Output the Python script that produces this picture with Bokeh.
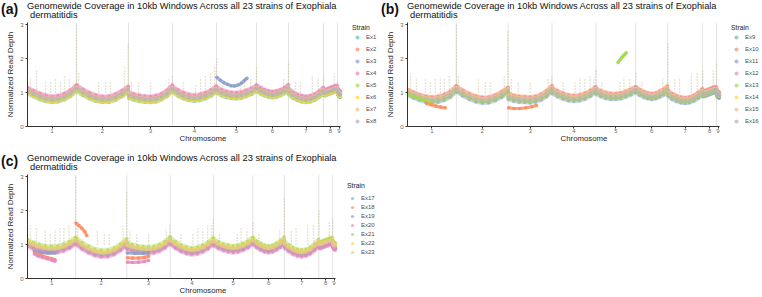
from bokeh.plotting import figure
from bokeh.models import Legend, LegendItem, FixedTicker, Span, Div
from bokeh.layouts import row, column
from bokeh.embed import file_html
from bokeh.resources import INLINE

FONT = "Liberation Sans"

# ---------------- data ----------------
CHROM_LABELS = ["1", "2", "3", "4", "5", "6", "7", "8", "9"]
CHROM_LEN_MB = [4.13, 4.38, 3.71, 3.71, 3.37, 2.70, 2.95, 1.18, 0.25]
PROFILE_FRAC = [0.0, 0.125, 0.25, 0.375, 0.5, 0.625, 0.75, 0.875, 1.0]

PROFILE_A = [
    [1.06, 0.97, 0.89, 0.83, 0.80, 0.82, 0.88, 0.98, 1.14],
    [1.13, 1.01, 0.91, 0.84, 0.80, 0.81, 0.87, 0.97, 1.10],
    [0.93, 0.87, 0.83, 0.81, 0.80, 0.82, 0.88, 0.98, 1.14],
    [1.10, 0.99, 0.91, 0.86, 0.84, 0.86, 0.91, 0.99, 1.11],
    [1.08, 1.00, 0.95, 0.92, 0.91, 0.93, 0.98, 1.04, 1.13],
    [1.13, 1.05, 1.00, 0.96, 0.94, 0.96, 1.00, 1.06, 1.15],
    [1.03, 0.93, 0.86, 0.82, 0.80, 0.82, 0.87, 0.95, 1.07],
    [1.00, 1.00, 1.02, 1.04, 1.06, 1.08, 1.10, 1.12, 1.12],
    [1.05, 1.03, 1.01, 0.99, 0.98, 0.97, 0.96, 0.95, 0.95],
]
PROFILE_B = [
    [1.02, 0.94, 0.87, 0.82, 0.80, 0.82, 0.87, 0.96, 1.13],
    [1.12, 1.00, 0.90, 0.83, 0.79, 0.80, 0.86, 0.96, 1.09],
    [0.90, 0.85, 0.82, 0.81, 0.80, 0.82, 0.88, 0.98, 1.14],
    [1.08, 0.98, 0.91, 0.86, 0.84, 0.86, 0.91, 0.99, 1.11],
    [1.06, 0.98, 0.93, 0.90, 0.90, 0.92, 0.97, 1.03, 1.11],
    [1.10, 1.02, 0.96, 0.92, 0.90, 0.92, 0.97, 1.03, 1.13],
    [1.00, 0.90, 0.84, 0.80, 0.78, 0.80, 0.85, 0.93, 1.05],
    [0.98, 0.98, 1.00, 1.02, 1.04, 1.06, 1.08, 1.10, 1.10],
    [1.03, 1.01, 0.99, 0.97, 0.96, 0.95, 0.95, 0.94, 0.94],
]
PROFILE_C = [
    [1.04, 0.96, 0.90, 0.86, 0.85, 0.86, 0.91, 0.99, 1.11],
    [1.10, 0.96, 0.85, 0.77, 0.73, 0.74, 0.80, 0.92, 1.07],
    [0.95, 0.90, 0.86, 0.84, 0.83, 0.85, 0.90, 0.99, 1.13],
    [1.10, 0.98, 0.89, 0.83, 0.80, 0.82, 0.88, 0.97, 1.10],
    [1.06, 0.98, 0.92, 0.88, 0.86, 0.88, 0.93, 1.00, 1.11],
    [1.10, 1.00, 0.93, 0.88, 0.86, 0.88, 0.94, 1.01, 1.12],
    [1.00, 0.89, 0.81, 0.76, 0.74, 0.76, 0.82, 0.92, 1.06],
    [0.98, 0.98, 1.00, 1.02, 1.04, 1.06, 1.08, 1.10, 1.10],
    [1.03, 1.01, 0.99, 0.97, 0.96, 0.95, 0.95, 0.94, 0.94],
]

STRAINS_A = ["Ex1", "Ex2", "Ex3", "Ex4", "Ex5", "Ex6", "Ex7", "Ex8"]
STRAINS_B = ["Ex9", "Ex10", "Ex11", "Ex12", "Ex13", "Ex14", "Ex15", "Ex16"]
STRAINS_C = ["Ex17", "Ex18", "Ex19", "Ex20", "Ex21", "Ex22", "Ex23"]
OFFSET_A = [-0.09, 0.06, 0.00, 0.09, -0.05, -0.07, 0.02, -0.02]
OFFSET_B = [-0.04, 0.07, -0.10, 0.04, -0.06, 0.01, 0.02, -0.02]
OFFSET_C = [0.00, -0.05, -0.06, -0.10, 0.10, 0.04, 0.02]
STRAIN_COLORS = ["#66C2A5", "#FC8D62", "#8DA0CB", "#E78AC3",
                 "#A6D854", "#FFD92F", "#E5C494", "#B3B3B3"]

# strain-specific departures from the shared band (Mb, depth)
A_EX3_CHR5_X = [15.95, 16.25, 16.55, 16.85, 17.15, 17.45, 17.75, 18.05, 18.30, 18.50]
A_EX3_CHR5_Y = [1.45, 1.36, 1.29, 1.24, 1.20, 1.19, 1.22, 1.28, 1.36, 1.42]
B_EX13_CHR5_X = [17.80, 17.95, 18.10, 18.25, 18.40, 18.50]
B_EX13_CHR5_Y = [1.88, 1.95, 2.02, 2.08, 2.13, 2.17]
B_EX13_CHR1_X = [0.00, 0.40, 0.80, 1.20, 1.60, 1.90]
B_EX13_CHR1_Y = [0.95, 0.90, 0.85, 0.80, 0.76, 0.73]
B_EX10_CHR1_X = [1.60, 2.00, 2.40, 2.80, 3.20]
B_EX10_CHR1_Y = [0.68, 0.64, 0.60, 0.57, 0.55]
B_EX10_CHR3_X = [8.55, 9.00, 9.50, 10.00, 10.50, 10.90]
B_EX10_CHR3_Y = [0.55, 0.53, 0.53, 0.55, 0.58, 0.62]
C_EX18_CHR2_X = [4.15, 4.40, 4.65, 4.90, 5.08]
C_EX18_CHR2_Y = [1.63, 1.56, 1.48, 1.38, 1.26]
C_EX18_CHR1_X = [0.60, 0.90, 1.30, 1.70, 2.10, 2.36]
C_EX18_CHR1_Y = [0.76, 0.70, 0.66, 0.62, 0.58, 0.55]
C_EX20_CHR1_X = [0.60, 0.90, 1.30, 1.70, 2.10, 2.36]
C_EX20_CHR1_Y = [0.72, 0.66, 0.62, 0.58, 0.54, 0.51]
C_EX19_CHR1_X = [0.60, 1.20, 1.80, 2.36]
C_EX19_CHR1_Y = [0.80, 0.76, 0.75, 0.75]
C_EX20_CHR3_X = [8.55, 9.00, 9.50, 10.00, 10.37]
C_EX20_CHR3_Y = [0.48, 0.47, 0.48, 0.50, 0.53]
C_EX18_CHR3_X = [8.55, 9.00, 9.50, 10.00, 10.37]
C_EX18_CHR3_Y = [0.61, 0.60, 0.60, 0.62, 0.65]
C_EX19_CHR3_X = [8.55, 9.20, 9.90, 10.37]
C_EX19_CHR3_Y = [0.75, 0.74, 0.74, 0.76]

# narrow high-coverage windows (position Mb, highest depth)
SPIKE_MB = [0.25, 0.76, 1.52, 1.94, 2.36, 2.78, 3.12, 3.54, 4.13, 4.30,
            5.99, 6.58, 7.00, 8.18, 8.49, 8.77, 9.36, 10.37, 11.89, 12.20,
            13.15, 14.17, 14.59, 15.00, 15.43, 15.77, 15.93, 16.44, 17.96, 18.30,
            18.80, 19.30, 19.81, 21.59, 22.00, 22.60, 23.00, 24.00, 24.50, 24.95,
            25.85, 26.13]
SPIKE_TOP_A = [1.45, 1.65, 1.35, 1.30, 1.40, 1.35, 1.50, 1.45, 3.00, 1.60,
               1.35, 1.30, 1.30, 1.75, 2.50, 1.35, 1.30, 1.30, 1.45, 1.50,
               1.30, 1.25, 1.45, 1.50, 1.60, 1.75, 2.00, 1.30, 1.30, 1.45,
               1.40, 1.80, 1.25, 1.40, 1.90, 1.35, 1.30, 1.50, 1.45, 1.55,
               1.55, 1.30]
SPIKE_TOP_B = [1.55, 1.45, 1.40, 1.35, 1.40, 1.45, 1.40, 1.50, 3.00, 1.50,
               1.40, 1.35, 1.30, 1.50, 2.80, 1.40, 1.35, 1.35, 1.40, 1.50,
               1.35, 1.30, 1.45, 1.40, 1.50, 1.45, 1.65, 1.30, 1.35, 1.45,
               1.40, 1.60, 1.30, 1.45, 2.50, 1.40, 1.45, 1.55, 1.60, 1.70,
               1.65, 1.90]
SPIKE_TOP_C = [1.55, 1.50, 1.40, 1.35, 1.45, 1.50, 1.50, 1.55, 3.00, 1.60,
               1.40, 1.35, 1.35, 1.55, 2.60, 1.40, 1.35, 1.35, 1.45, 1.60,
               1.35, 1.30, 1.50, 1.45, 1.55, 1.60, 1.80, 1.30, 1.35, 1.50,
               1.45, 1.65, 1.30, 1.45, 2.40, 1.45, 1.50, 1.55, 1.60, 2.00,
               1.65, 1.80]
SPIKE_BASE = 1.0

TITLE_LINE1 = "Genomewide Coverage in 10kb Windows Across all 23 strains of Exophiala"
TITLE_LINE2 = "dermatitidis"

# ---------------- helpers ----------------
starts = []
acc = 0.0
for L in CHROM_LEN_MB:
    starts.append(acc)
    acc += L
TOTAL = acc
MIDS = [s + L / 2 for s, L in zip(starts, CHROM_LEN_MB)]
BOUNDS = starts[1:]
NAN = float("nan")


def strain_xy(profile, offset):
    xs, ys = [], []
    for s, L, vals in zip(starts, CHROM_LEN_MB, profile):
        for f, v in zip(PROFILE_FRAC, vals):
            xs.append(s + f * L)
            ys.append(v + offset)
        xs.append(NAN)
        ys.append(NAN)
    return xs, ys


def header(tag, width, height, dy):
    html = (
        f'<div style="position:relative;width:{width}px;height:{height}px;'
        f"font-family:'Liberation Sans',Arial,sans-serif;color:#111111;\">"
        f'<span style="position:absolute;left:1px;top:{2 + dy}px;font-size:14px;'
        f'line-height:14px;font-weight:bold;white-space:nowrap;">{tag}</span>'
        f'<span style="position:absolute;left:27px;top:{1.6 + dy}px;font-size:9.3px;'
        f'line-height:9.3px;white-space:nowrap;">{TITLE_LINE1}</span>'
        f'<span style="position:absolute;left:30px;top:{11.3 + dy}px;font-size:9.3px;'
        f'line-height:9.3px;white-space:nowrap;">{TITLE_LINE2}</span></div>'
    )
    return Div(text=html, width=width, height=height, margin=(0, 0, 0, 0))


def panel(strains, offsets, profile, devs, spike_top, width, height, data_px,
          leg_loc, leg_glyph_h, leg_spacing, leg_title_standoff):
    frame_px = width - 27 - 2
    x_end = TOTAL * frame_px / data_px   # room on the right for the legend
    p = figure(width=width, height=height, x_range=(0, x_end), y_range=(0, 3.06),
               output_backend="svg", toolbar_location=None, title=None,
               min_border_left=27, min_border_right=2,
               min_border_top=1, min_border_bottom=19)
    p.outline_line_color = None
    p.background_fill_color = "white"
    p.border_fill_color = "white"
    p.xgrid.visible = False
    p.ygrid.visible = False
    for b in BOUNDS:
        sp = Span(location=b, dimension="height", line_color="#e3e3e3", line_width=1)
        sp.level = "underlay"
        p.add_layout(sp)

    p.segment(x0=SPIKE_MB, y0=[SPIKE_BASE] * len(SPIKE_MB), x1=SPIKE_MB, y1=spike_top,
              line_color="#c6b690", line_width=1.3, line_alpha=0.8, line_dash="1 2")

    items = []
    for i, (name, off) in enumerate(zip(strains, offsets)):
        col = STRAIN_COLORS[i]
        xs, ys = strain_xy(profile, off)
        p.line(xs, ys, line_color=col, line_width=4.0, line_alpha=0.45)
        r = p.scatter(xs, ys, size=3.4, fill_color=col, line_color=None, fill_alpha=0.7)
        items.append(LegendItem(label=name, renderers=[r]))

    for si, dx, dy in devs:
        col = STRAIN_COLORS[si]
        p.line(dx, dy, line_color=col, line_width=3.2, line_alpha=0.8)
        p.scatter(dx, dy, size=3.6, fill_color=col, line_color=None, fill_alpha=0.9)

    for ax in (p.xaxis[0], p.yaxis[0]):
        ax.axis_line_color = "#333333"
        ax.major_tick_line_color = "#333333"
        ax.minor_tick_line_color = None
        ax.major_tick_out = 2
        ax.major_tick_in = 0
        ax.major_label_text_font = FONT
        ax.major_label_text_font_size = "6px"
        ax.major_label_text_color = "#6b6b6b"
        ax.axis_label_text_font = FONT
        ax.axis_label_text_font_style = "normal"
        ax.axis_label_text_color = "#262626"
    p.xaxis.bounds = (0, TOTAL)
    p.xaxis.ticker = FixedTicker(ticks=MIDS)
    p.xaxis.major_label_overrides = {m: lab for m, lab in zip(MIDS, CHROM_LABELS)}
    p.xaxis.major_label_standoff = 0
    p.xaxis.axis_label = "Chromosome"
    p.xaxis.axis_label_text_font_size = "7.8px"
    p.xaxis.axis_label_standoff = -2
    p.yaxis.ticker = FixedTicker(ticks=[0, 1, 2, 3])
    p.yaxis.major_label_standoff = 2
    p.yaxis.axis_label = "Normalized Read Depth"
    p.yaxis.axis_label_text_font_size = "8px"
    p.yaxis.axis_label_standoff = 2

    legend = Legend(items=items, location=leg_loc, orientation="vertical",
                    title="Strain", title_text_font=FONT, title_text_font_size="6.8px",
                    title_text_font_style="normal",
                    title_text_color="#1a1a1a", title_standoff=leg_title_standoff,
                    label_text_font=FONT, label_text_font_size="6px",
                    label_text_color="#4d4d4d",
                    glyph_width=10, glyph_height=leg_glyph_h, label_height=leg_glyph_h,
                    label_standoff=4, spacing=leg_spacing,
                    padding=0, margin=0, border_line_alpha=0, background_fill_alpha=0)
    p.add_layout(legend)
    return p


devs_a = [(2, A_EX3_CHR5_X, A_EX3_CHR5_Y)]
devs_b = [(4, B_EX13_CHR5_X, B_EX13_CHR5_Y), (4, B_EX13_CHR1_X, B_EX13_CHR1_Y),
          (1, B_EX10_CHR1_X, B_EX10_CHR1_Y), (1, B_EX10_CHR3_X, B_EX10_CHR3_Y)]
devs_c = [(1, C_EX18_CHR2_X, C_EX18_CHR2_Y), (2, C_EX19_CHR1_X, C_EX19_CHR1_Y),
          (1, C_EX18_CHR1_X, C_EX18_CHR1_Y), (3, C_EX20_CHR1_X, C_EX20_CHR1_Y),
          (2, C_EX19_CHR3_X, C_EX19_CHR3_Y), (1, C_EX18_CHR3_X, C_EX18_CHR3_Y),
          (3, C_EX20_CHR3_X, C_EX20_CHR3_Y)]

pa = panel(STRAINS_A, OFFSET_A, PROFILE_A, devs_a, SPIKE_TOP_A, 380, 124, 313,
           (325, 0), 10, 2, 1)
pb = panel(STRAINS_B, OFFSET_B, PROFILE_B, devs_b, SPIKE_TOP_B, 382, 124, 312,
           (324, 0), 10, 2, 1)
pc = panel(STRAINS_C, OFFSET_C, PROFILE_C, devs_c, SPIKE_TOP_C, 380, 124, 308,
           (320, 22), 8, 1, 5)

col_a = column(header("(a)", 380, 21, 0), pa)
col_b = column(header("(b)", 382, 21, 0), pb)
col_c = column(header("(c)", 380, 28, 7), pc)

layout = column(row(col_a, col_b), col_c)
open("out.html", "w").write(file_html(layout, INLINE, "Genomewide coverage"))
